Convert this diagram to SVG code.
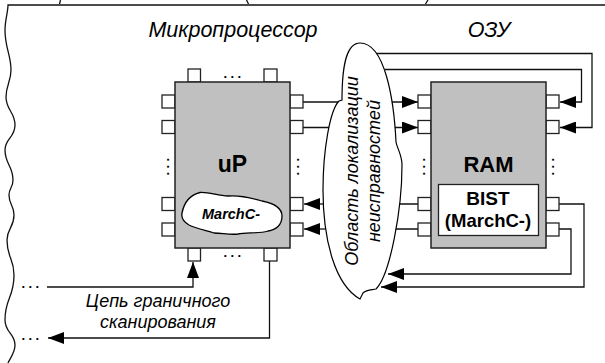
<svg xmlns="http://www.w3.org/2000/svg" width="605" height="363" viewBox="0 0 605 363">
<style>
text{font-family:"Liberation Sans",Arial,sans-serif;fill:#000;text-anchor:middle}
.i{font-style:italic}
.b{font-weight:bold}
.chip{fill:#c0c0c0;stroke:#222;stroke-width:1.5}
.pin{fill:#fff;stroke:#222;stroke-width:1.3}
.w{fill:none;stroke:#111;stroke-width:1.3}
.dots{font-size:13px;font-weight:bold;letter-spacing:3.400px}
</style>
<defs>
<marker id="a" viewBox="0 0 16 12" refX="16" refY="6" markerWidth="16" markerHeight="12" markerUnits="userSpaceOnUse" orient="auto"><path d="M0 0L16 6L0 12Z" fill="#000"/></marker>
</defs>
<rect width="605" height="363" fill="#fff"/>
<g id="border">
<path class="w" d="M605 5H8C8 12 5 20 5 30C5 48 11 55 11 70C11 82 6 85 6 97C6 110 15 112 15 125C15 138 5 138 5 150C5 164 13 166 13 180C13 188 9 188 9 195C9 205 14 205 14 215C14 228 7 228 7 240C7 258 14 258 14 275C14 298 5 298 5 320C5 333 15 333 15 345C15 353 10 358 8 363"/>
<path class="w" d="M60.500 0L59.500 4M246.500 0L248.500 4M428 0L425.500 4"/>
</g>
<g id="connectors">
<path class="w" d="M303 102H418" marker-end="url(#a)"/>
<path class="w" d="M303 127.500H418" marker-end="url(#a)"/>
<path class="w" d="M330 204H304" marker-end="url(#a)"/>
<path class="w" d="M330 229H304" marker-end="url(#a)"/>
<path class="w" d="M385 69.500H581.500V102H560" marker-end="url(#a)"/>
<path class="w" d="M375 53.500H592V127.500H560" marker-end="url(#a)"/>
<path class="w" d="M559 204H584V287H381" marker-end="url(#a)"/>
<path class="w" d="M559 229H571V274H388" marker-end="url(#a)"/>
<path class="w" d="M47 287H193V262" marker-end="url(#a)"/>
<path class="w" d="M269.500 261V338H48" marker-end="url(#a)"/>
<path class="w" d="M395 204H418M395 229H418"/>
</g>
<g id="fault-area">
<path d="M360 43C348 43 342 60 342 100L339 101C330 110 323 150 323 190C323 240 335 285 360 299L363 293C367 289 372 290 376 289C390 275 402 210 402 165C402 155 397 148 396 142C394 100 385 43 360 43Z" fill="#fff" stroke="#000" stroke-width="1.2"/>
<text class="i" font-size="18" transform="translate(358 171) rotate(-90)">Область локализации</text>
<text class="i" font-size="18" transform="translate(380 171) rotate(-90)">неисправностей</text>
</g>
<g id="up">
<rect class="pin" x="188" y="69" width="12.500" height="13"/>
<rect class="pin" x="264" y="69" width="13" height="13"/>
<rect class="pin" x="162" y="95" width="13" height="13"/>
<rect class="pin" x="162" y="120.500" width="13" height="13"/>
<rect class="pin" x="162" y="197.500" width="13" height="13"/>
<rect class="pin" x="162" y="223" width="13" height="13"/>
<rect class="pin" x="290" y="95" width="13" height="13"/>
<rect class="pin" x="290" y="120.500" width="13" height="13"/>
<rect class="pin" x="290" y="197.500" width="13" height="13"/>
<rect class="pin" x="290" y="223" width="13" height="13"/>
<rect class="pin" x="188" y="248" width="12.500" height="13"/>
<rect class="pin" x="264" y="248" width="13" height="13"/>
<rect class="chip" x="175" y="82" width="115" height="166"/>
<text class="b" x="232.500" y="172" font-size="23">uP</text>
<path d="M182 213C184 203 190 195 200 192.500C210 192 218 196 228 196C240 195 252 198 262 201C272 203 282 207 282 216C282 225 276 230 268 231C258 234 246 232 238 234C230 235 222 233 214 233C204 230 195 228 189 225C184 222 181 218 182 213Z" fill="#fff" stroke="#000" stroke-width="1.300"/>
<text class="b i" x="231" y="219" font-size="14.500">MarchC-</text>
</g>
<g id="ram">
<rect class="pin" x="418" y="95" width="13" height="13"/>
<rect class="pin" x="418" y="120.500" width="13" height="13"/>
<rect class="pin" x="418" y="197.500" width="13" height="13"/>
<rect class="pin" x="418" y="223" width="13" height="13"/>
<rect class="pin" x="546" y="95" width="13" height="13"/>
<rect class="pin" x="546" y="120.500" width="13" height="13"/>
<rect class="pin" x="546" y="197.500" width="13" height="13"/>
<rect class="pin" x="546" y="223" width="13" height="13"/>
<rect class="chip" x="431" y="82" width="115" height="166"/>
<text class="b" x="488.500" y="172" font-size="22">RAM</text>
</g>
<g id="bist">
<rect x="438.500" y="184.500" width="100" height="51" fill="#fff" stroke="#222" stroke-width="1.300"/>
<text class="b" x="488" y="205" font-size="19">BIST</text>
<text class="b" x="488" y="226.500" font-size="18.500">(MarchC-)</text>
</g>
<g id="labels">
<text class="i" x="233" y="37" font-size="21.500">Микропроцессор</text>
<text class="i" x="489" y="37" font-size="21.500">ОЗУ</text>
<text class="i" x="158" y="306.500" font-size="18">Цепь граничного</text>
<text class="i" x="158" y="327.500" font-size="18">сканирования</text>
<text class="dots" x="234" y="78">...</text>
<text class="dots" x="234" y="257">...</text>
<text class="dots" x="32" y="288">...</text>
<text class="dots" x="32" y="339.500">...</text>
<text class="dots" transform="translate(168.500 165) rotate(-90)">...</text>
<text class="dots" transform="translate(298.500 165) rotate(-90)">...</text>
<text class="dots" transform="translate(424.500 165) rotate(-90)">...</text>
<text class="dots" transform="translate(553.500 165) rotate(-90)">...</text>
</g>
</svg>
